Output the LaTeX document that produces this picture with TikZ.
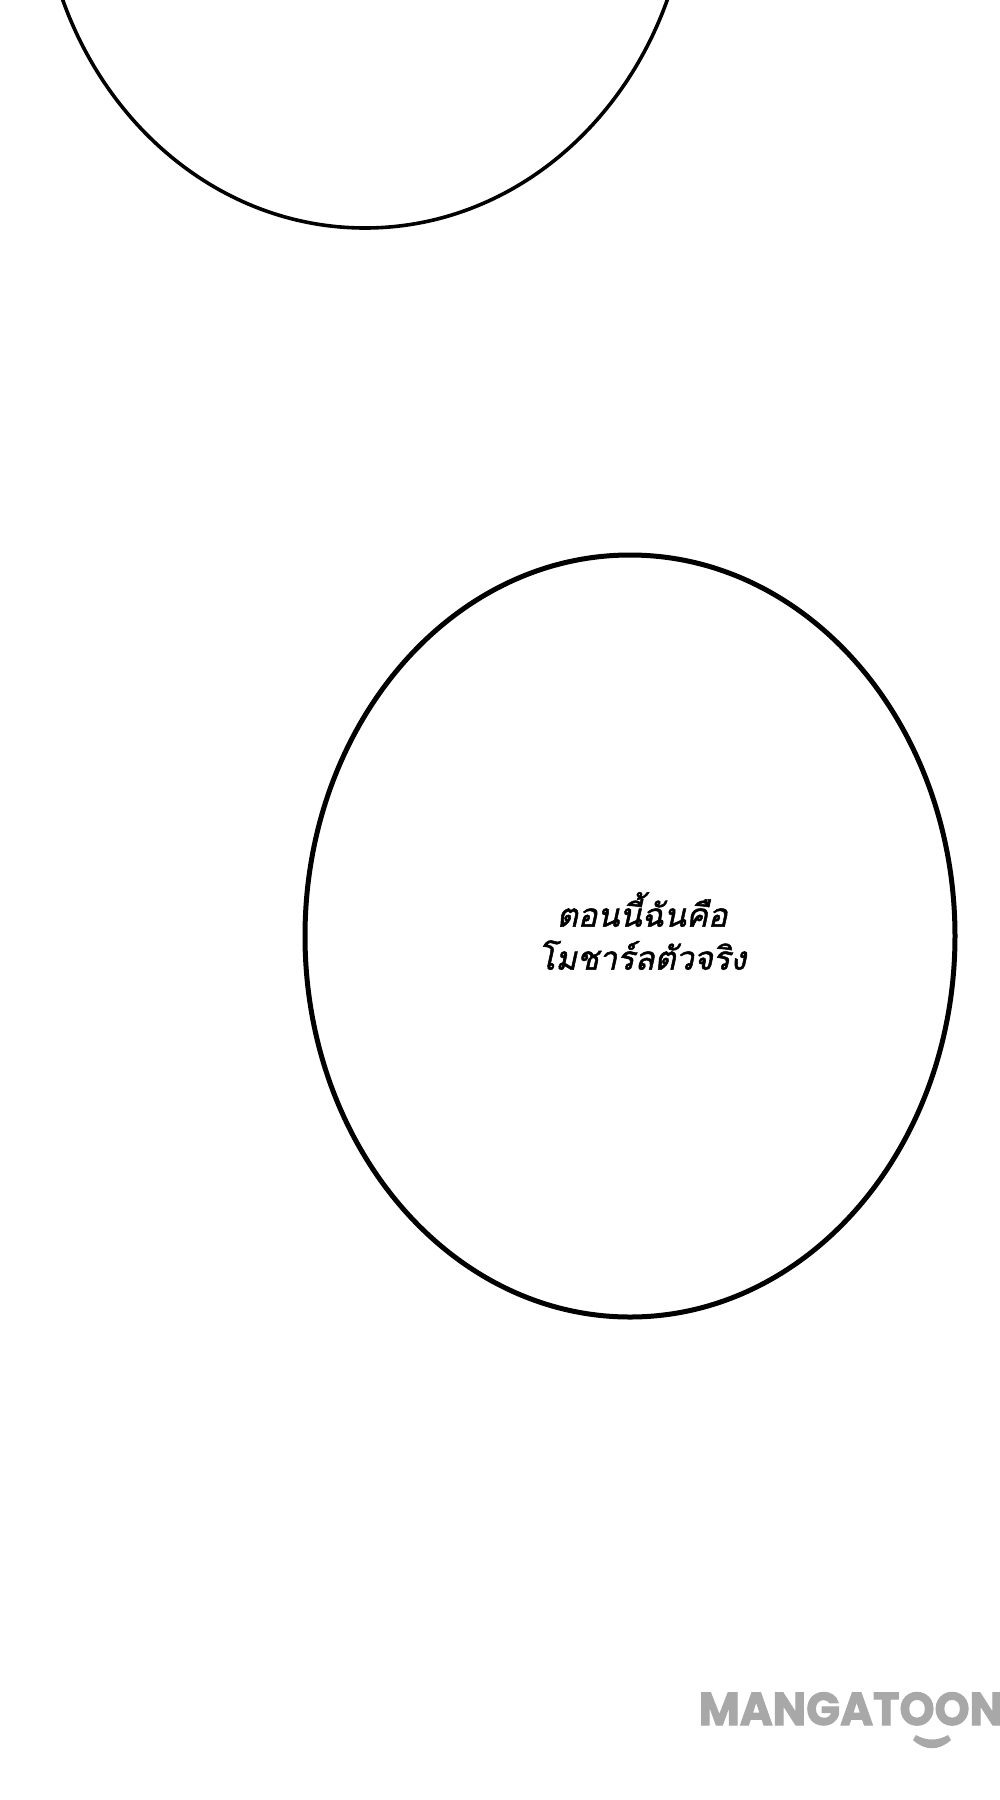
\documentclass[tikz,border=0pt]{standalone}
\usepackage{fontspec}
\newfontfamily\thaifont[Script=Thai,FakeSlant=0.22,FakeBold=1.6]{Loma}
\newfontfamily\logofont[FakeBold=2.2]{Poppins Bold}
\definecolor{logogrey}{HTML}{A8A8A8}
\tikzset{
  balloon/.style={draw=black,fill=white},
  speech/.style={align=center,font=\thaifont\fontsize{32.5}{43}\selectfont,text=black,inner sep=0pt},
  logo/.style={font=\logofont\fontsize{46}{46}\selectfont,text=logogrey,inner sep=0pt}
}
\begin{document}
\begin{tikzpicture}[x=1pt,y=-1pt]
\useasboundingbox (0,0) rectangle (1000,1800);
\fill[white] (0,0) rectangle (1000,1800);
\begin{scope}
\clip (0,0) rectangle (1000,1800);
\draw[balloon,line width=3.6pt] (365,-133) ellipse [x radius=325,y radius=361];
\end{scope}
\draw[balloon,line width=5pt] (630,936) ellipse [x radius=325,y radius=381];
\node[speech] (txt) at (642,931) {ตอนนี้ฉันคือ\\โมชาร์ลตัวจริง};
\node[logo,anchor=base,xscale=0.97] (brand) at (851,1725) {MANGATOON};
\fill[logogrey] (916,1735) .. controls (926,1741) and (938,1741) .. (948,1735)
  -- (951,1740) .. controls (939,1751) and (925,1751) .. (913,1740) -- cycle;
\end{tikzpicture}
\end{document}
